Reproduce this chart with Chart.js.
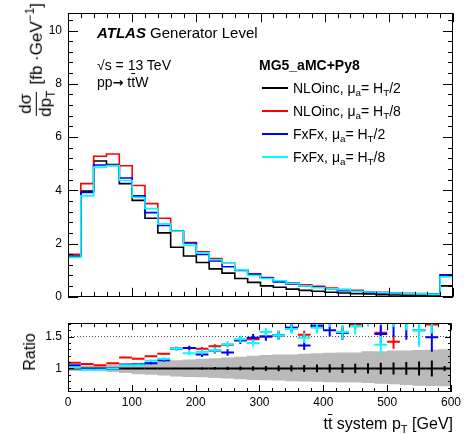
<!DOCTYPE html>
<html>
<head>
<meta charset="UTF-8">
<title>ttW system pT</title>
<script src="https://cdn.jsdelivr.net/npm/chart.js"></script>
<style>
    body { margin: 0; background: #fff; font-family: "Liberation Sans", Arial, sans-serif; color: #000; }
    #wrap { position: relative; width: 464px; height: 435px; overflow: hidden; }
    #main { position: absolute; left: 0; top: 0; }
    #ratio { position: absolute; left: 0; top: 310px; }
    .txt { position: absolute; white-space: nowrap; line-height: 1; }
    sub, sup { font-size: 0.7em; vertical-align: baseline; position: relative; line-height: 0; }
    sub { top: 0.35em; }
    sup { top: -0.5em; }
    .ov { text-decoration: overline; }
    .arrow { font-family: "DejaVu Sans", sans-serif; font-weight: bold; font-size: 13px; }
    .leg { position: absolute; left: 262px; width: 26px; height: 0; border-top: 2px solid #000; }
    .frac { display: inline-flex; flex-direction: column; align-items: center; vertical-align: middle; font-size: 17px; line-height: 1.1; margin-right: 6px; }
    .frac .num { border-bottom: 1px solid #000; padding: 0 2px; }
</style>
</head>
<body>
<div id="wrap">
    <canvas id="main" width="464" height="310"></canvas>
    <canvas id="ratio" width="464" height="125"></canvas>

    <div class="txt" style="left:97px; top:25px; font-size:15px;"><b><i>ATLAS</i></b> Generator Level</div>
    <div class="txt" style="left:97px; top:58px; font-size:14px;">√s = 13 TeV</div>
    <div class="txt" style="left:97px; top:75px; font-size:14px;">pp<span class="arrow">→</span> t<span class="ov">t</span>W</div>
    <div class="txt" style="left:259px; top:58px; font-size:14px; font-weight:bold;">MG5_aMC+Py8</div>

    <div class="leg" style="top:87px; border-color:#000;"></div>
    <div class="txt" style="left:293px; top:81px; font-size:14px;">NLOinc, μ<sub>a</sub>= H<sub>T</sub>/2</div>
    <div class="leg" style="top:110px; border-color:#ff0000;"></div>
    <div class="txt" style="left:293px; top:104px; font-size:14px;">NLOinc, μ<sub>a</sub>= H<sub>T</sub>/8</div>
    <div class="leg" style="top:133px; border-color:#0000ff;"></div>
    <div class="txt" style="left:293px; top:127px; font-size:14px;">FxFx, μ<sub>a</sub>= H<sub>T</sub>/2</div>
    <div class="leg" style="top:156px; border-color:#00ffff;"></div>
    <div class="txt" style="left:293px; top:150px; font-size:14px;">FxFx, μ<sub>a</sub>= H<sub>T</sub>/8</div>

    <div class="txt" style="right:447px; top:3px; font-size:17px; transform-origin:right top; transform:rotate(-90deg); display:flex; align-items:center;"><span class="frac"><span class="num">dσ</span><span>dp<sub>T</sub></span></span>[fb ·GeV<sup>−1</sup> ]</div>
    <div class="txt" style="left:30px; top:352px; font-size:16px; transform:translate(-50%,-50%) rotate(-90deg);">Ratio</div>
    <div class="txt" style="right:11px; top:416px; font-size:16px;">t<span class="ov">t</span> system p<sub>T</sub> [GeV]</div>
</div>

<script>
// bin edges in GeV (20 GeV bins, last bin holds the overflow)
const binEdges = [0, 20, 40, 60, 80, 100, 120, 140, 160, 180, 200, 220, 240, 260, 280, 300,
                  320, 340, 360, 380, 400, 420, 440, 460, 480, 500, 520, 540, 560, 580, 600];
const binWidth = 20;

// dsigma/dpT [fb/GeV]
const nloHalf   = [1.52, 3.97, 5.10, 4.97, 4.25, 3.62, 2.95, 2.40, 1.86, 1.53, 1.29, 1.05, 0.89, 0.69, 0.54,
                   0.41, 0.36, 0.29, 0.24, 0.21, 0.17, 0.14, 0.12, 0.11, 0.08, 0.07, 0.06, 0.06, 0.05, 0.41];
const nloEighth = [1.60, 4.25, 5.28, 5.36, 4.92, 4.18, 3.50, 2.95, 2.46, 2.04, 1.69, 1.44, 1.26, 1.01, 0.85,
                   0.72, 0.60, 0.53, 0.45, 0.39, 0.33, 0.27, 0.24, 0.19, 0.17, 0.15, 0.13, 0.12, 0.10, 0.81];
const fxHalf    = [1.52, 3.92, 4.95, 4.93, 4.46, 3.79, 3.16, 2.68, 2.46, 2.02, 1.59, 1.35, 1.13, 0.99, 0.85,
                   0.71, 0.56, 0.48, 0.41, 0.36, 0.30, 0.23, 0.21, 0.17, 0.14, 0.13, 0.11, 0.10, 0.09, 0.83];
const fxEighth  = [1.48, 3.79, 4.87, 4.93, 4.37, 3.73, 3.31, 2.74, 2.46, 1.93, 1.65, 1.39, 1.26, 1.01, 0.80,
                   0.69, 0.60, 0.51, 0.41, 0.34, 0.30, 0.27, 0.21, 0.18, 0.16, 0.14, 0.12, 0.11, 0.09, 0.75];

// ratio to NLOinc HT/2, with stat. errors
const ratioNloHalf   = [1, 1, 1, 1, 1, 1, 1, 1, 1, 1, 1, 1, 1, 1, 1, 1, 1, 1, 1, 1, 1, 1, 1, 1, 1, 1, 1, 1, 1, 1];
const errNloHalf     = [0.005, 0.005, 0.005, 0.006, 0.007, 0.008, 0.01, 0.012, 0.014, 0.016, 0.02, 0.022, 0.025, 0.03, 0.035,
                        0.04, 0.045, 0.05, 0.055, 0.06, 0.065, 0.07, 0.075, 0.08, 0.09, 0.095, 0.1, 0.11, 0.125, 0.04];
const ratioNloEighth = [1.09, 1.07, 1.05, 1.08, 1.17, 1.15, 1.19, 1.23, 1.31, 1.32, 1.31, 1.35, 1.37, 1.45, 1.46,
                        1.50, 1.52, 1.64, 1.53, 1.67, 1.80, 1.56, 1.69, 1.80, 1.56, 1.42, 1.80, 1.75, 1.69, 1.98];
const errNloEighth   = [0.01, 0.008, 0.008, 0.01, 0.01, 0.012, 0.014, 0.016, 0.02, 0.022, 0.025, 0.028, 0.03, 0.035, 0.04,
                        0.045, 0.05, 0.055, 0.06, 0.065, 0.07, 0.075, 0.08, 0.09, 0.09, 0.11, 0.11, 0.12, 0.13, 0.05];
const ratioFxHalf    = [1.05, 0.99, 0.99, 1.00, 1.06, 1.06, 1.08, 1.13, 1.31, 1.32, 1.22, 1.28, 1.25, 1.44, 1.48,
                        1.50, 1.52, 1.64, 1.36, 1.67, 1.60, 1.56, 1.80, 1.85, 1.54, 1.80, 1.85, 1.60, 1.49, 2.00];
const errFxHalf      = [0.015, 0.012, 0.012, 0.014, 0.016, 0.018, 0.02, 0.025, 0.03, 0.035, 0.04, 0.045, 0.05, 0.055, 0.06,
                        0.065, 0.07, 0.075, 0.07, 0.09, 0.1, 0.11, 0.13, 0.14, 0.15, 0.3, 0.4, 0.25, 0.23, 0.1];
const ratioFxEighth  = [1.01, 0.98, 0.98, 1.00, 1.05, 1.05, 1.12, 1.15, 1.31, 1.24, 1.26, 1.29, 1.38, 1.46, 1.40,
                        1.57, 1.52, 1.62, 1.48, 1.64, 1.75, 1.57, 1.66, 1.80, 1.37, 1.85, 1.85, 1.60, 1.80, 1.90];
const errFxEighth    = [0.015, 0.012, 0.012, 0.014, 0.016, 0.018, 0.02, 0.025, 0.03, 0.035, 0.04, 0.045, 0.05, 0.055, 0.06,
                        0.065, 0.07, 0.075, 0.08, 0.09, 0.1, 0.11, 0.13, 0.14, 0.14, 0.2, 0.25, 0.25, 0.25, 0.1];

// scale uncertainty band of the reference
const bandHi = [1.04, 1.045, 1.05, 1.06, 1.07, 1.09, 1.10, 1.115, 1.13, 1.14, 1.15, 1.16, 1.17, 1.185, 1.20,
                1.21, 1.22, 1.22, 1.23, 1.24, 1.245, 1.25, 1.25, 1.27, 1.27, 1.28, 1.28, 1.29, 1.295, 1.30];
const bandLo = [0.965, 0.96, 0.955, 0.945, 0.93, 0.91, 0.90, 0.89, 0.875, 0.865, 0.86, 0.85, 0.84, 0.83, 0.82,
                0.815, 0.81, 0.80, 0.795, 0.79, 0.785, 0.78, 0.78, 0.77, 0.76, 0.75, 0.74, 0.73, 0.725, 0.72];
const refLevel = 1.5;

Chart.defaults.font.family = '"Liberation Sans", Arial, sans-serif';
Chart.defaults.font.size = 12;
Chart.defaults.color = '#000';

const binCenters = binEdges.slice(0, -1).map(e => e + binWidth / 2);

// points on the left edges, plus the right edge of the last bin
function stepPoints(vals) {
    const pts = vals.map((v, i) => ({x: binEdges[i], y: v}));
    pts.push({x: binEdges[vals.length], y: vals[vals.length - 1]});
    return pts;
}
function centerPoints(vals) {
    return vals.map((v, i) => ({x: binCenters[i], y: v}));
}
function isMult(v, m) {
    return Math.abs(v / m - Math.round(v / m)) < 1e-6;
}

// ROOT-like frame with ticks pointing inwards on all four sides
const frameTicks = {
    id: 'frameTicks',
    afterDraw(chart, args, o) {
        const {ctx, chartArea: a, scales: {x, y}} = chart;
        ctx.save();
        ctx.strokeStyle = '#000';
        ctx.lineWidth = 1;
        ctx.beginPath();
        x.ticks.forEach(t => {
            const px = Math.round(x.getPixelForValue(t.value)) + 0.5;
            const len = isMult(t.value, o.xMajor) ? o.xLong : o.xShort;
            ctx.moveTo(px, a.bottom); ctx.lineTo(px, a.bottom - len);
            ctx.moveTo(px, a.top); ctx.lineTo(px, a.top + len);
        });
        y.ticks.forEach(t => {
            const py = Math.round(y.getPixelForValue(t.value)) + 0.5;
            const len = isMult(t.value, o.yMajor) ? o.yLong : o.yShort;
            ctx.moveTo(a.left, py); ctx.lineTo(a.left + len, py);
            ctx.moveTo(a.right, py); ctx.lineTo(a.right - len, py);
        });
        ctx.stroke();
        ctx.strokeRect(Math.round(a.left) + 0.5, Math.round(a.top) + 0.5, Math.round(a.width) - 1, Math.round(a.height) - 1);
        ctx.restore();
    }
};

// crosses: bin width horizontally, stat. error vertically
const errorBars = {
    id: 'errorBars',
    afterDatasetsDraw(chart) {
        const {ctx, chartArea: a, scales: {x, y}} = chart;
        ctx.save();
        ctx.beginPath();
        ctx.rect(a.left, a.top, a.width, a.height);
        ctx.clip();
        chart.data.datasets.forEach(ds => {
            if (!ds.errors) return;
            ctx.strokeStyle = ds.barColor;
            ctx.lineWidth = 2;
            ds.data.forEach((p, i) => {
                const px = x.getPixelForValue(p.x);
                const py = y.getPixelForValue(p.y);
                const e = ds.errors[i];
                ctx.beginPath();
                ctx.moveTo(x.getPixelForValue(p.x - binWidth / 2), py);
                ctx.lineTo(x.getPixelForValue(p.x + binWidth / 2), py);
                ctx.moveTo(px, y.getPixelForValue(p.y - e));
                ctx.lineTo(px, y.getPixelForValue(p.y + e));
                ctx.stroke();
            });
        });
        ctx.restore();
    }
};

function histo(label, vals, color, order) {
    return {label: label, data: stepPoints(vals), borderColor: color, borderWidth: 1.6,
            stepped: 'before', pointRadius: 0, fill: false, order: order};
}

new Chart(document.getElementById('main'), {
    type: 'line',
    data: {
        datasets: [
            histo('NLOinc, HT/2', nloHalf, '#000000', 3),
            histo('NLOinc, HT/8', nloEighth, '#ff0000', 2),
            histo('FxFx, HT/2', fxHalf, '#0000ff', 1),
            histo('FxFx, HT/8', fxEighth, '#00ffff', 0)
        ]
    },
    options: {
        responsive: false,
        animation: false,
        layout: {padding: {top: 10, right: 11, bottom: 6, left: 0}},
        plugins: {
            legend: {display: false},
            tooltip: {enabled: false},
            frameTicks: {xMajor: 100, xLong: 9, xShort: 5, yMajor: 2, yLong: 10, yShort: 5}
        },
        scales: {
            x: {
                type: 'linear', min: 0, max: 600,
                ticks: {display: false, stepSize: 20, autoSkip: false, includeBounds: false},
                grid: {display: false, drawTicks: false},
                border: {display: false},
                afterFit: s => { s.height = 0; }
            },
            y: {
                min: 0, max: 10.65,
                ticks: {stepSize: 0.4, autoSkip: false, includeBounds: false, padding: 6,
                        callback: v => isMult(v, 2) ? String(Math.round(v)) : ''},
                grid: {display: false, drawTicks: false},
                border: {display: false},
                afterFit: s => { s.width = 68; }
            }
        }
    },
    plugins: [frameTicks]
});

function markers(label, vals, errs, color) {
    return {label: label, data: centerPoints(vals), errors: errs, barColor: color,
            showLine: false, pointRadius: 0, fill: false};
}

new Chart(document.getElementById('ratio'), {
    type: 'line',
    data: {
        datasets: [
            {label: 'band up', data: stepPoints(bandHi), stepped: 'before', borderWidth: 0,
             borderColor: 'rgba(0,0,0,0)', pointRadius: 0, fill: false},
            {label: 'band down', data: stepPoints(bandLo), stepped: 'before', borderWidth: 0,
             borderColor: 'rgba(0,0,0,0)', backgroundColor: '#bababa', pointRadius: 0, fill: '-1'},
            {label: 'ref', data: [{x: binEdges[0], y: refLevel}, {x: binEdges[binEdges.length - 1], y: refLevel}],
             borderColor: '#444', borderWidth: 1, borderDash: [1, 2], pointRadius: 0, fill: false},
            markers('NLOinc, HT/2', ratioNloHalf, errNloHalf, '#000000'),
            markers('NLOinc, HT/8', ratioNloEighth, errNloEighth, '#ff0000'),
            markers('FxFx, HT/2', ratioFxHalf, errFxHalf, '#0000ff'),
            markers('FxFx, HT/8', ratioFxEighth, errFxEighth, '#00ffff')
        ]
    },
    options: {
        responsive: false,
        animation: false,
        layout: {padding: {top: 5, right: 11, bottom: 0, left: 0}},
        plugins: {
            legend: {display: false},
            tooltip: {enabled: false},
            frameTicks: {xMajor: 100, xLong: 7, xShort: 4, yMajor: 0.5, yLong: 6, yShort: 3}
        },
        scales: {
            x: {
                type: 'linear', min: 0, max: 600,
                ticks: {stepSize: 20, autoSkip: false, includeBounds: false, maxRotation: 0, padding: 3,
                        callback: v => isMult(v, 100) ? String(v) : ''},
                grid: {display: false, drawTicks: false},
                border: {display: false},
                afterFit: s => { s.height = 43; }
            },
            y: {
                min: 0.63, max: 1.71,
                ticks: {stepSize: 0.1, autoSkip: false, includeBounds: false, padding: 6,
                        callback: v => isMult(v, 0.5) ? String(v) : ''},
                grid: {display: false, drawTicks: false},
                border: {display: false},
                afterFit: s => { s.width = 68; }
            }
        }
    },
    plugins: [frameTicks, errorBars]
});
</script>
</body>
</html>
